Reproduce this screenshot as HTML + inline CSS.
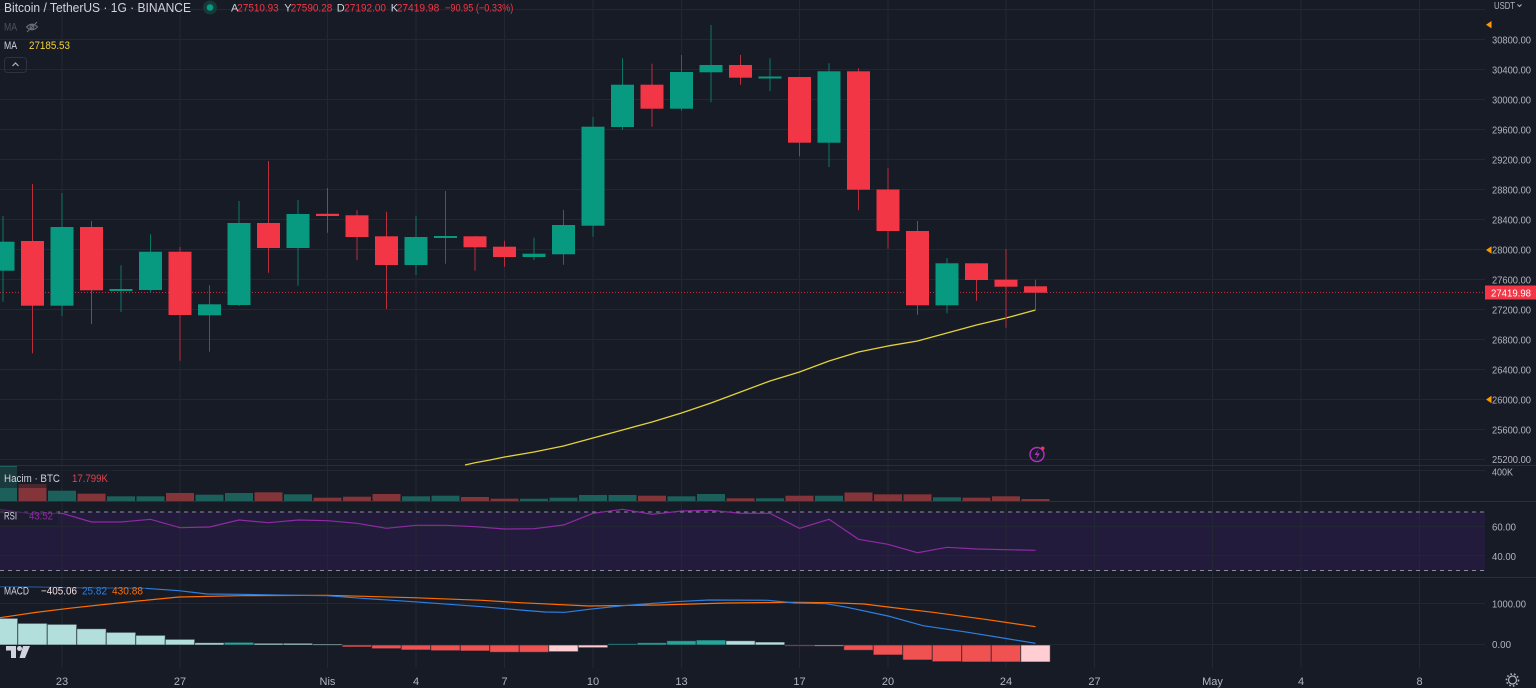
<!DOCTYPE html>
<html><head><meta charset="utf-8"><style>
html,body{margin:0;padding:0;background:#171b26;}
svg{display:block;font-family:"Liberation Sans",sans-serif;}
</style></head><body>
<svg width="1536" height="688" viewBox="0 0 1536 688" xmlns="http://www.w3.org/2000/svg">
<rect width="1536" height="688" fill="#171b26"/>
<!-- RSI band -->
<rect x="0" y="512" width="1485" height="58.6" fill="#231b3b"/>
<!-- grid -->
<g stroke="#232733" stroke-width="1">
<line x1="62" y1="0" x2="62" y2="668"/><line x1="180" y1="0" x2="180" y2="668"/><line x1="327.5" y1="0" x2="327.5" y2="668"/><line x1="416" y1="0" x2="416" y2="668"/><line x1="504.5" y1="0" x2="504.5" y2="668"/><line x1="593" y1="0" x2="593" y2="668"/><line x1="681.5" y1="0" x2="681.5" y2="668"/><line x1="799.5" y1="0" x2="799.5" y2="668"/><line x1="888" y1="0" x2="888" y2="668"/><line x1="1006" y1="0" x2="1006" y2="668"/><line x1="1094.5" y1="0" x2="1094.5" y2="668"/><line x1="1212.5" y1="0" x2="1212.5" y2="668"/><line x1="1301" y1="0" x2="1301" y2="668"/><line x1="1419.5" y1="0" x2="1419.5" y2="668"/>
<line x1="0" y1="9.5" x2="1485" y2="9.5"/><line x1="0" y1="39.5" x2="1485" y2="39.5"/><line x1="0" y1="69.5" x2="1485" y2="69.5"/><line x1="0" y1="99.5" x2="1485" y2="99.5"/><line x1="0" y1="129.5" x2="1485" y2="129.5"/><line x1="0" y1="159.5" x2="1485" y2="159.5"/><line x1="0" y1="189.5" x2="1485" y2="189.5"/><line x1="0" y1="219.5" x2="1485" y2="219.5"/><line x1="0" y1="249.5" x2="1485" y2="249.5"/><line x1="0" y1="279.5" x2="1485" y2="279.5"/><line x1="0" y1="309.5" x2="1485" y2="309.5"/><line x1="0" y1="339.5" x2="1485" y2="339.5"/><line x1="0" y1="369.5" x2="1485" y2="369.5"/><line x1="0" y1="399.5" x2="1485" y2="399.5"/><line x1="0" y1="429.5" x2="1485" y2="429.5"/><line x1="0" y1="459.5" x2="1485" y2="459.5"/>
<line x1="0" y1="470.5" x2="1485" y2="470.5"/>
<line x1="0" y1="526.5" x2="1485" y2="526.5"/><line x1="0" y1="555.5" x2="1485" y2="555.5"/>
<line x1="0" y1="603.5" x2="1485" y2="603.5"/><line x1="0" y1="644.5" x2="1485" y2="644.5"/>
</g>
<!-- pane separators -->
<g stroke="#2a2e39" stroke-width="1">
<line x1="0" y1="465.5" x2="1536" y2="465.5"/>
<line x1="0" y1="501.5" x2="1536" y2="501.5"/>
<line x1="0" y1="577.5" x2="1536" y2="577.5"/>
</g>
<!-- price line -->
<line x1="0" y1="292.5" x2="1485" y2="292.5" stroke="#f23645" stroke-opacity="0.75" stroke-dasharray="1 2"/>
<!-- MA line -->
<polyline fill="none" stroke="#e2d23c" stroke-width="1.3" points="465,465 475,462.7 490,460 504.5,457 534,452 563.5,446 593,438 622.5,430 652,422 681.5,413 711,403 740.5,392 770,381 799.5,372 829,361 858.5,352 888,346 917.5,341 947,333 976.5,325 1006,318 1035.5,310"/>
<!-- candles -->
<g stroke-width="1">
<g stroke="#0c7565" fill="#089981">
<line x1="3" y1="216" x2="3" y2="301.7"/><line x1="62" y1="193" x2="62" y2="316"/><line x1="121" y1="265.3" x2="121" y2="312"/><line x1="150.5" y1="234.3" x2="150.5" y2="292.7"/><line x1="209.5" y1="285.3" x2="209.5" y2="351.7"/><line x1="239" y1="201" x2="239" y2="306"/><line x1="298" y1="200" x2="298" y2="285.7"/><line x1="416" y1="216" x2="416" y2="275"/><line x1="445.5" y1="191" x2="445.5" y2="263.7"/><line x1="534" y1="237.7" x2="534" y2="260"/><line x1="563.5" y1="210" x2="563.5" y2="264.7"/><line x1="593" y1="117" x2="593" y2="236.7"/><line x1="622.5" y1="58.3" x2="622.5" y2="130"/><line x1="681.5" y1="55" x2="681.5" y2="110.7"/><line x1="711" y1="25" x2="711" y2="102.3"/><line x1="770" y1="58.3" x2="770" y2="91"/><line x1="829" y1="63.3" x2="829" y2="167"/><line x1="947" y1="258" x2="947" y2="313.3"/>
</g>
<g stroke="#b82e3c">
<line x1="32.5" y1="184" x2="32.5" y2="353.3"/><line x1="91.5" y1="221" x2="91.5" y2="324"/><line x1="180" y1="247" x2="180" y2="360.7"/><line x1="268.5" y1="161" x2="268.5" y2="272.7"/><line x1="327.5" y1="188" x2="327.5" y2="232.7"/><line x1="357" y1="210" x2="357" y2="260"/><line x1="386.5" y1="211.7" x2="386.5" y2="309"/><line x1="475" y1="236" x2="475" y2="270.7"/><line x1="504.5" y1="240.7" x2="504.5" y2="266.7"/><line x1="652" y1="63.7" x2="652" y2="126.7"/><line x1="740.5" y1="55" x2="740.5" y2="84.7"/><line x1="799.5" y1="77" x2="799.5" y2="156.3"/><line x1="858.5" y1="68.3" x2="858.5" y2="210.3"/><line x1="888" y1="168" x2="888" y2="248.7"/><line x1="917.5" y1="221" x2="917.5" y2="314.7"/><line x1="976.5" y1="263.3" x2="976.5" y2="300.7"/><line x1="1006" y1="249" x2="1006" y2="327.7"/><line x1="1035.5" y1="279.7" x2="1035.5" y2="310"/>
</g>
</g>
<g fill="#089981">
<rect x="-8.5" y="241.7" width="23" height="29"/>
<rect x="50.5" y="227" width="23" height="78.7"/>
<rect x="109.5" y="289" width="23" height="2"/>
<rect x="139" y="251.7" width="23" height="38.3"/>
<rect x="198" y="304.3" width="23" height="11"/>
<rect x="227.5" y="223" width="23" height="82"/>
<rect x="286.5" y="214" width="23" height="34"/>
<rect x="404.5" y="237" width="23" height="28"/>
<rect x="434" y="236" width="23" height="2"/>
<rect x="522.5" y="253.7" width="23" height="3.3"/>
<rect x="552" y="225" width="23" height="29.3"/>
<rect x="581.5" y="126.7" width="23" height="99"/>
<rect x="611" y="84.7" width="23" height="42.3"/>
<rect x="670" y="72" width="23" height="36.7"/>
<rect x="699.5" y="65" width="23" height="7.3"/>
<rect x="758.5" y="76.5" width="23" height="2"/>
<rect x="817.5" y="71.3" width="23" height="71.4"/>
<rect x="935.5" y="263.3" width="23" height="42"/>
</g>
<g fill="#f23645">
<rect x="21" y="241" width="23" height="64.7"/>
<rect x="80" y="227" width="23" height="63.3"/>
<rect x="168.5" y="251.7" width="23" height="63.3"/>
<rect x="257" y="223" width="23" height="25"/>
<rect x="316" y="213.8" width="23" height="2.2"/>
<rect x="345.5" y="215.3" width="23" height="21.7"/>
<rect x="375" y="236.3" width="23" height="28.7"/>
<rect x="463.5" y="236.3" width="23" height="11"/>
<rect x="493" y="246.7" width="23" height="10.3"/>
<rect x="640.5" y="84.7" width="23" height="24"/>
<rect x="729" y="65" width="23" height="12.7"/>
<rect x="788" y="77" width="23" height="65.7"/>
<rect x="847" y="71.3" width="23" height="118.4"/>
<rect x="876.5" y="189.5" width="23" height="41.5"/>
<rect x="906" y="231" width="23" height="74.3"/>
<rect x="965" y="263.3" width="23" height="16.7"/>
<rect x="994.5" y="279.7" width="23" height="7"/>
<rect x="1024" y="286.3" width="23" height="6.4"/>
</g>
<!-- volume -->
<g fill="#1d5f5a">
<rect x="-11" y="466" width="28" height="35"/><rect x="48" y="490.7" width="28" height="10.3"/><rect x="107" y="496.3" width="28" height="4.7"/><rect x="136.5" y="496.3" width="28" height="4.7"/><rect x="195.5" y="494.7" width="28" height="6.3"/><rect x="225" y="493" width="28" height="8"/><rect x="284" y="494.3" width="28" height="6.7"/><rect x="402" y="496.3" width="28" height="4.7"/><rect x="431.5" y="495.7" width="28" height="5.3"/><rect x="520" y="498.7" width="28" height="2.3"/><rect x="549.5" y="497.7" width="28" height="3.3"/><rect x="579" y="495" width="28" height="6"/><rect x="608.5" y="495" width="28" height="6"/><rect x="667.5" y="496.3" width="28" height="4.7"/><rect x="697" y="494" width="28" height="7"/><rect x="756" y="498.3" width="28" height="2.7"/><rect x="815" y="495.7" width="28" height="5.3"/><rect x="933" y="497.3" width="28" height="3.7"/>
</g>
<g fill="#833539">
<rect x="18.5" y="484" width="28" height="17"/><rect x="77.5" y="493.7" width="28" height="7.3"/><rect x="166" y="493" width="28" height="8"/><rect x="254.5" y="492.3" width="28" height="8.7"/><rect x="313.5" y="497.7" width="28" height="3.3"/><rect x="343" y="496.7" width="28" height="4.3"/><rect x="372.5" y="494" width="28" height="7"/><rect x="461" y="497" width="28" height="4"/><rect x="490.5" y="498.7" width="28" height="2.3"/><rect x="638" y="495.7" width="28" height="5.3"/><rect x="726.5" y="498.3" width="28" height="2.7"/><rect x="785.5" y="495.7" width="28" height="5.3"/><rect x="844.5" y="492.5" width="28" height="8.5"/><rect x="874" y="494.3" width="28" height="6.7"/><rect x="903.5" y="494.3" width="28" height="6.7"/><rect x="962.5" y="497.7" width="28" height="3.3"/><rect x="992" y="496.3" width="28" height="4.7"/><rect x="1021.5" y="499" width="28" height="2"/>
</g>
<!-- RSI dashed levels -->
<g stroke="#8a8d97" stroke-width="1" stroke-dasharray="4 4">
<line x1="0" y1="512" x2="1485" y2="512"/>
<line x1="0" y1="570.5" x2="1485" y2="570.5"/>
</g>
<polyline fill="none" stroke="#8e2ba3" stroke-width="1.2" points="0,509.5 32.5,514 62,513.3 91.5,522 121,522 150.5,519.3 180,527.7 209.5,527 239,520 268.5,522.7 298,520 327.5,520.7 357,523.3 386.5,528.3 416,525.3 445.5,525.3 475,526.7 504.5,529 534,528.7 563.5,525 593,513.3 622.5,509.3 652,514.3 681.5,511 711,510.3 740.5,513.3 770,513.3 799.5,528.3 829,519.3 858.5,539.3 888,544.3 917.5,552.7 947,547.3 976.5,549 1006,549.7 1035.5,550.3"/>
<!-- MACD histogram -->
<g stroke="#171b26" stroke-opacity="0.6" stroke-width="1">
<g fill="#b2dfdb">
<rect x="-11.75" y="618.3" width="29.5" height="26.7"/><rect x="17.75" y="623.3" width="29.5" height="21.7"/><rect x="47.25" y="624.3" width="29.5" height="20.7"/><rect x="76.75" y="628.7" width="29.5" height="16.3"/><rect x="106.25" y="632.3" width="29.5" height="12.7"/><rect x="135.75" y="635.3" width="29.5" height="9.7"/><rect x="165.25" y="639.3" width="29.5" height="5.7"/><rect x="194.75" y="642.7" width="29.5" height="2.3"/><rect x="253.75" y="643.3" width="29.5" height="1.7"/><rect x="283.25" y="643.3" width="29.5" height="1.7"/><rect x="312.75" y="644" width="29.5" height="1.2"/><rect x="725.75" y="640.7" width="29.5" height="4.3"/><rect x="755.25" y="642" width="29.5" height="3"/>
</g>
<g fill="#26a69a">
<rect x="224.25" y="642.3" width="29.5" height="2.7"/><rect x="607.75" y="643.7" width="29.5" height="1.3"/><rect x="637.25" y="642.7" width="29.5" height="2.3"/><rect x="666.75" y="640.7" width="29.5" height="4.3"/><rect x="696.25" y="640" width="29.5" height="5"/>
</g>
<g fill="#f05252">
<rect x="342.25" y="645" width="29.5" height="2"/><rect x="371.75" y="645" width="29.5" height="3.7"/><rect x="401.25" y="645" width="29.5" height="5"/><rect x="430.75" y="645" width="29.5" height="5.7"/><rect x="460.25" y="645" width="29.5" height="6"/><rect x="489.75" y="645" width="29.5" height="7.3"/><rect x="519.25" y="645" width="29.5" height="7.3"/><rect x="784.75" y="645" width="29.5" height="1.2"/><rect x="843.75" y="645" width="29.5" height="5.3"/><rect x="873.25" y="645" width="29.5" height="10"/><rect x="902.75" y="645" width="29.5" height="15"/><rect x="932.25" y="645" width="29.5" height="16.7"/><rect x="961.75" y="645" width="29.5" height="17"/><rect x="991.25" y="645" width="29.5" height="17"/>
</g>
<g fill="#ffcdd2">
<rect x="548.75" y="645" width="29.5" height="6.7"/><rect x="578.25" y="645" width="29.5" height="2.7"/><rect x="814.25" y="645" width="29.5" height="1.2"/><rect x="1020.75" y="645" width="29.5" height="17"/>
</g>
</g>
<!-- MACD lines -->
<polyline fill="none" stroke="#ff6d00" stroke-width="1.2" points="0,617.7 35,612.5 69,608.3 104,604.5 138,601 179,597 241,595.7 327,595.3 413,597.7 482,600.3 520,602.7 589,606 658,605 727,603 795,602.3 830,602.7 864,604 888,607 933,612.3 985,619.3 1035.5,626.7"/>
<polyline fill="none" stroke="#2f7fe0" stroke-width="1.2" points="0,586.7 35,587 69,587.7 110,588 145,588.3 179,590.7 207,594 241,594.3 275,595 327,595.7 362,598.3 413,601.7 482,606.7 520,610 545,612 565,612.3 589,609.3 623,605.7 675,601.7 709,600 768,600.3 795,603 826,603.7 847,607.3 888,616 923,625.7 968,632.3 1009,639 1035.5,643.3"/>
<!-- legend backgrounds -->
<rect x="0" y="467" width="112" height="21" fill="#171b26" fill-opacity="0.55"/>
<rect x="0" y="506" width="58" height="19" fill="#171b26" fill-opacity="0.55"/>
<rect x="0" y="582" width="146" height="18" fill="#171b26" fill-opacity="0.45"/>
<!-- header -->
<text x="4" y="12" font-size="12.5" fill="#d1d4dc" textLength="187" lengthAdjust="spacingAndGlyphs">Bitcoin / TetherUS · 1G · BINANCE</text>
<circle cx="210" cy="7.5" r="7" fill="#163a38"/>
<circle cx="210" cy="7.5" r="3.3" fill="#089981"/>
<g font-size="11">
<text x="231" y="11.5" fill="#d1d4dc">A</text><text x="237.3" y="11.5" fill="#f23645" textLength="41.4" lengthAdjust="spacingAndGlyphs">27510.93</text>
<text x="284.3" y="11.5" fill="#d1d4dc">Y</text><text x="290.7" y="11.5" fill="#f23645" textLength="41.6" lengthAdjust="spacingAndGlyphs">27590.28</text>
<text x="336.7" y="11.5" fill="#d1d4dc">D</text><text x="344.3" y="11.5" fill="#f23645" textLength="41.7" lengthAdjust="spacingAndGlyphs">27192.00</text>
<text x="390.7" y="11.5" fill="#d1d4dc">K</text><text x="396.7" y="11.5" fill="#f23645" textLength="42.6" lengthAdjust="spacingAndGlyphs">27419.98</text>
<text x="445" y="11.5" fill="#f23645" textLength="68.3" lengthAdjust="spacingAndGlyphs">−90.95 (−0.33%)</text>
</g>
<text x="4" y="30.7" font-size="11" fill="#50535e" textLength="13" lengthAdjust="spacingAndGlyphs">MA</text>
<g fill="none" stroke="#6a6d78" stroke-width="1.1">
<path d="M26.5,27 Q32,21.5 37.5,27 Q32,32.5 26.5,27 Z"/>
<circle cx="32" cy="27" r="1.8"/>
<line x1="27" y1="32" x2="37" y2="22"/>
</g>
<text x="4" y="49" font-size="11" fill="#d1d4dc" textLength="13" lengthAdjust="spacingAndGlyphs">MA</text>
<text x="29" y="49" font-size="11" fill="#f2d43a" textLength="41" lengthAdjust="spacingAndGlyphs">27185.53</text>
<rect x="4.5" y="57.5" width="22" height="15" rx="3" fill="none" stroke="#2e323e"/>
<path d="M12.5,66 L15.5,63 L18.5,66" fill="none" stroke="#b2b5be" stroke-width="1.2"/>
<!-- pane legends -->
<text x="4" y="482" font-size="11" fill="#d1d4dc" textLength="56" lengthAdjust="spacingAndGlyphs">Hacim · BTC</text>
<text x="72" y="482" font-size="11" fill="#e0414e" textLength="36" lengthAdjust="spacingAndGlyphs">17.799K</text>
<text x="4" y="519.7" font-size="11" fill="#d1d4dc" textLength="13" lengthAdjust="spacingAndGlyphs">RSI</text>
<text x="29" y="519.7" font-size="11" fill="#8e2ba3" textLength="24" lengthAdjust="spacingAndGlyphs">43.52</text>
<text x="4" y="594.7" font-size="11" fill="#d1d4dc" textLength="25" lengthAdjust="spacingAndGlyphs">MACD</text>
<text x="41" y="594.7" font-size="11" fill="#f3dfe1" textLength="36" lengthAdjust="spacingAndGlyphs">−405.06</text>
<text x="82" y="594.7" font-size="11" fill="#2f7fe0" textLength="25" lengthAdjust="spacingAndGlyphs">25.82</text>
<text x="112" y="594.7" font-size="11" fill="#ff6d00" textLength="31" lengthAdjust="spacingAndGlyphs">430.88</text>
<!-- TradingView logo -->
<g fill="#d1d4dc">
<path d="M6,646 H16 V658 H11 V650.5 H6 Z"/>
<circle cx="19.5" cy="648.5" r="2.5"/>
<path d="M23,646 H30 L25,658 H19.5 Z"/>
</g>
<!-- lightning icon -->
<circle cx="1037" cy="454.5" r="7" fill="none" stroke="#b52fc4" stroke-width="1.4"/>
<path d="M1038.5,449.5 L1034.5,455 H1037.5 L1035.5,459.5 L1040,453.5 H1037 Z" fill="#b52fc4"/>
<circle cx="1042.7" cy="448.3" r="1.8" fill="#f23645"/>
<!-- right axis -->
<text x="1494" y="9" font-size="10" fill="#b2b5be" textLength="21" lengthAdjust="spacingAndGlyphs">USDT</text>
<path d="M1517.5,4.5 L1519.5,6.5 L1521.5,4.5" fill="none" stroke="#b2b5be" stroke-width="1"/>
<g fill="#ff9800">
<path d="M1486,24.7 L1491.5,21 V28.4 Z"/>
<path d="M1486,250 L1491.5,246.3 V253.7 Z"/>
<path d="M1486,399.5 L1491.5,395.8 V403.2 Z"/>
</g>
<g font-size="10.5" fill="#b2b5be">
<text x="1492" y="43.3" textLength="39" lengthAdjust="spacingAndGlyphs">30800.00</text>
<text x="1492" y="73.3" textLength="39" lengthAdjust="spacingAndGlyphs">30400.00</text>
<text x="1492" y="103.3" textLength="39" lengthAdjust="spacingAndGlyphs">30000.00</text>
<text x="1492" y="133.3" textLength="39" lengthAdjust="spacingAndGlyphs">29600.00</text>
<text x="1492" y="163.3" textLength="39" lengthAdjust="spacingAndGlyphs">29200.00</text>
<text x="1492" y="193.3" textLength="39" lengthAdjust="spacingAndGlyphs">28800.00</text>
<text x="1492" y="223.3" textLength="39" lengthAdjust="spacingAndGlyphs">28400.00</text>
<text x="1492" y="253.3" textLength="39" lengthAdjust="spacingAndGlyphs">28000.00</text>
<text x="1492" y="283.3" textLength="39" lengthAdjust="spacingAndGlyphs">27600.00</text>
<text x="1492" y="313.3" textLength="39" lengthAdjust="spacingAndGlyphs">27200.00</text>
<text x="1492" y="343.3" textLength="39" lengthAdjust="spacingAndGlyphs">26800.00</text>
<text x="1492" y="373.3" textLength="39" lengthAdjust="spacingAndGlyphs">26400.00</text>
<text x="1492" y="403.3" textLength="39" lengthAdjust="spacingAndGlyphs">26000.00</text>
<text x="1492" y="433.3" textLength="39" lengthAdjust="spacingAndGlyphs">25600.00</text>
<text x="1492" y="463" textLength="39" lengthAdjust="spacingAndGlyphs">25200.00</text>
<text x="1492" y="475.5" textLength="21" lengthAdjust="spacingAndGlyphs">400K</text>
<text x="1492" y="530.5" textLength="24" lengthAdjust="spacingAndGlyphs">60.00</text>
<text x="1492" y="559.8" textLength="24" lengthAdjust="spacingAndGlyphs">40.00</text>
<text x="1492" y="607.5" textLength="34" lengthAdjust="spacingAndGlyphs">1000.00</text>
<text x="1492" y="647.8" textLength="19" lengthAdjust="spacingAndGlyphs">0.00</text>
</g>
<rect x="1485" y="285.5" width="51" height="14" fill="#f23645"/>
<text x="1491" y="296.3" font-size="10.5" fill="#ffffff" textLength="40" lengthAdjust="spacingAndGlyphs">27419.98</text>
<!-- time axis -->
<g font-size="11" fill="#b2b5be" text-anchor="middle">
<text x="62" y="685">23</text>
<text x="180" y="685">27</text>
<text x="327.5" y="685">Nis</text>
<text x="416" y="685">4</text>
<text x="504.5" y="685">7</text>
<text x="593" y="685">10</text>
<text x="681.5" y="685">13</text>
<text x="799.5" y="685">17</text>
<text x="888" y="685">20</text>
<text x="1006" y="685">24</text>
<text x="1094.5" y="685">27</text>
<text x="1212.5" y="685">May</text>
<text x="1301" y="685">4</text>
<text x="1419.5" y="685">8</text>
</g>
<!-- gear -->
<circle cx="1512.5" cy="680" r="4" fill="none" stroke="#b2b5be" stroke-width="1.2"/>
<circle cx="1512.5" cy="680" r="6" fill="none" stroke="#b2b5be" stroke-width="1.6" stroke-dasharray="1.6 2.1"/>
</svg>
</body></html>
